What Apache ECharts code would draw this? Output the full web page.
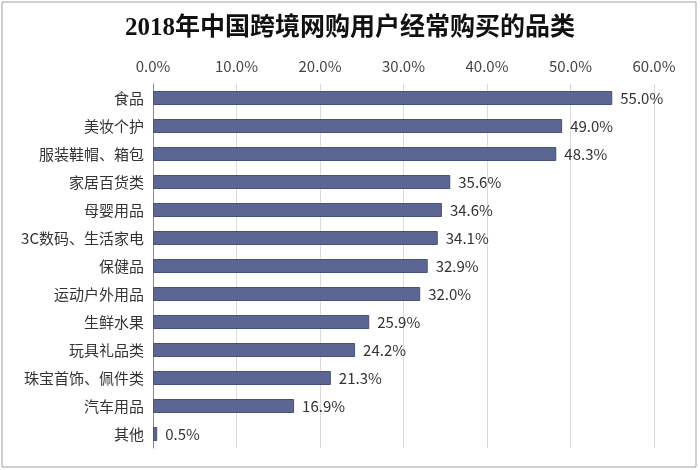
<!DOCTYPE html>
<html><head><meta charset="utf-8">
<script src="https://cdn.jsdelivr.net/npm/echarts@6/dist/echarts.min.js"></script>
<style>html,body{margin:0;padding:0;background:#fff}#c{width:700px;height:470px}</style>
</head><body><div id="c"></div>
<script>
const titleText = '2018年中国跨境网购用户经常购买的品类';
const categories = ['食品','美妆个护','服装鞋帽、箱包','家居百货类','母婴用品','3C数码、生活家电','保健品','运动户外用品','生鲜水果','玩具礼品类','珠宝首饰、佩件类','汽车用品','其他'];
const values = [55.0,49.0,48.3,35.6,34.6,34.1,32.9,32.0,25.9,24.2,21.3,16.9,0.5];

const chart = echarts.init(document.getElementById('c'), null, {renderer:'canvas'});
chart.setOption({
  animation:false,
  backgroundColor:'#fff',
  graphic:[{type:'rect',shape:{x:2,y:2,width:694,height:465},style:{fill:'none',stroke:'#a0a0a0',lineWidth:1},silent:true}],
  title:{text:titleText,left:'center',top:11,textStyle:{fontFamily:'"Liberation Serif","Noto Sans CJK SC"',fontSize:25,fontWeight:'bold',color:'#111'}},
  grid:{left:153,right:46,top:84,bottom:22,containLabel:false},
  xAxis:{type:'value',position:'top',min:0,max:60,interval:10,
    axisLabel:{formatter:v=>v.toFixed(1)+'%',color:'#444',fontSize:15,fontFamily:'"Noto Sans CJK SC"',margin:10},
    axisLine:{show:false},axisTick:{show:false},
    splitLine:{lineStyle:{color:'#d9d9d9'}}},
  yAxis:{type:'category',data:categories,inverse:true,
    axisLabel:{color:'#333',fontSize:15,fontFamily:'"Noto Sans CJK SC"',margin:9},
    axisLine:{lineStyle:{color:'#888'}},axisTick:{show:false}},
  series:[{type:'bar',data:values,barWidth:14,
    itemStyle:{color:'#5c6692',borderColor:'#48517d',borderWidth:1},
    label:{show:true,position:'right',distance:8,formatter:p=>p.value.toFixed(1)+'%',color:'#333',fontSize:15,fontFamily:'"Noto Sans CJK SC"'}}]
});
</script></body></html>
